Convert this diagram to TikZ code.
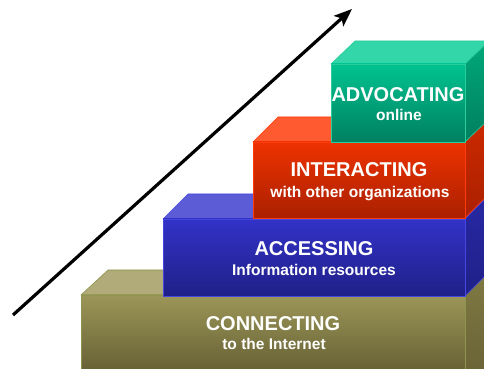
\documentclass[tikz,border=0pt]{standalone}
\usepackage{fontspec}
\setmainfont{Liberation Sans}
\usetikzlibrary{arrows.meta}
\definecolor{olTop}{RGB}{176,171,120}
\definecolor{olFrA}{RGB}{156,150,88}
\definecolor{olFrB}{RGB}{104,98,54}
\definecolor{olSide}{RGB}{128,122,68}
\definecolor{olLine}{RGB}{140,150,80}
\definecolor{blTop}{RGB}{92,92,214}
\definecolor{blFrA}{RGB}{50,50,200}
\definecolor{blFrB}{RGB}{32,32,136}
\definecolor{blSide}{RGB}{40,40,165}
\definecolor{blLine}{RGB}{70,70,225}
\definecolor{rdTop}{RGB}{255,90,48}
\definecolor{rdFrA}{RGB}{238,50,0}
\definecolor{rdFrB}{RGB}{170,32,0}
\definecolor{rdSide}{RGB}{205,42,0}
\definecolor{rdLine}{RGB}{255,60,10}
\definecolor{grTop}{RGB}{50,214,168}
\definecolor{grFrA}{RGB}{0,195,144}
\definecolor{grFrB}{RGB}{0,128,96}
\definecolor{grSide}{RGB}{0,168,122}
\definecolor{grLine}{RGB}{40,205,155}
\begin{document}
\begin{tikzpicture}[x=1pt, y=1pt, line join=round, line cap=round, >={Stealth[length=18pt,width=14pt,inset=4pt]},
    title/.style={anchor=base, text=white, inner sep=0pt, font=\bfseries\fontsize{20}{24}\selectfont},
    sub/.style={anchor=base, text=white, inner sep=0pt, font=\bfseries\fontsize{15.5}{18}\selectfont},
    rim/.style={line width=0.6pt}]
	\useasboundingbox (0,0) rectangle (484,369);
	\clip (0,0) rectangle (484,369);
	%%%%%%%%%%%%%%%%%%%%%%%%%%%%%%%%%
	\coordinate (cBL) at (81,0);
	\coordinate (cTL) at (81,74);
	\coordinate (cTR) at (465,74);
	\coordinate (cBR) at (465,0);
	\coordinate (aBL) at (163,73);
	\coordinate (aTL) at (163,150);
	\coordinate (aTR) at (465,150);
	\coordinate (aBR) at (465,73);
	\coordinate (iBL) at (253,151);
	\coordinate (iTL) at (253,227);
	\coordinate (iTR) at (465,227);
	\coordinate (iBR) at (465,151);
	\coordinate (vBL) at (331,227);
	\coordinate (vTL) at (331,305);
	\coordinate (vTR) at (465,305);
	\coordinate (vBR) at (465,227);
	\coordinate (tail) at (13,54);
	\coordinate (tip) at (352,360);
	%%%%%%%%%%%%%%%%%%%%%%%%%%%%%%%%%
	% connecting
	\filldraw[rim, fill=olTop, draw=olLine] (cTL) -- ++(27,25) -- ++(384,0) -- (cTR) -- cycle;
	\shadedraw[rim, top color=olSide, bottom color=olFrB, draw=olLine] (cTR) -- ++(27,25) -- ++(0,-110) -- (cBR) -- cycle;
	\shadedraw[rim, top color=olFrA, bottom color=olFrB, draw=olLine] (cBL) rectangle (cTR);
	% accessing
	\filldraw[rim, fill=blTop, draw=blLine] (aTL) -- ++(25,25) -- ++(302,0) -- (aTR) -- cycle;
	\shadedraw[rim, top color=blSide, bottom color=blFrB, draw=blLine] (aTR) -- ++(25,25) -- ++(0,-77) -- (aBR) -- cycle;
	\shadedraw[rim, top color=blFrA, bottom color=blFrB, draw=blLine] (aBL) rectangle (aTR);
	% interacting
	\filldraw[rim, fill=rdTop, draw=rdLine] (iTL) -- ++(25,25) -- ++(212,0) -- (iTR) -- cycle;
	\shadedraw[rim, top color=rdSide, bottom color=rdFrB, draw=rdLine] (iTR) -- ++(25,25) -- ++(0,-76) -- (iBR) -- cycle;
	\shadedraw[rim, top color=rdFrA, bottom color=rdFrB, draw=rdLine] (iBL) rectangle (iTR);
	% advocating
	\filldraw[rim, fill=grTop, draw=grLine] (vTL) -- ++(24,23) -- ++(134,0) -- (vTR) -- cycle;
	\shadedraw[rim, top color=grSide, bottom color=grFrB, draw=grLine] (vTR) -- ++(24,23) -- ++(0,-78) -- (vBR) -- cycle;
	\shadedraw[rim, top color=grFrA, bottom color=grFrB, draw=grLine] (vBL) rectangle (vTR);
	%%%%%%%%%%%%%%%%%%%%%%%%%%%%%%%%%
	\node[title] (connT) at (273,38) {CONNECTING};
	\node[sub] (connS) at (274,19) {to the Internet};
	\node[title] (accT) at (314,113) {ACCESSING};
	\node[sub] (accS) at (314,93) {Information resources};
	\node[title] (intT) at (359,192) {INTERACTING};
	\node[sub] (intS) at (360,171) {with other organizations};
	\node[title] (advT) at (398,267) {ADVOCATING};
	\node[sub] (advS) at (399,248) {online};
	%%%%%%%%%%%%%%%%%%%%%%%%%%%%%%%%%
	\draw[->, line width=3.2pt, line cap=butt] (tail) -- (tip);
\end{tikzpicture}
\end{document}
